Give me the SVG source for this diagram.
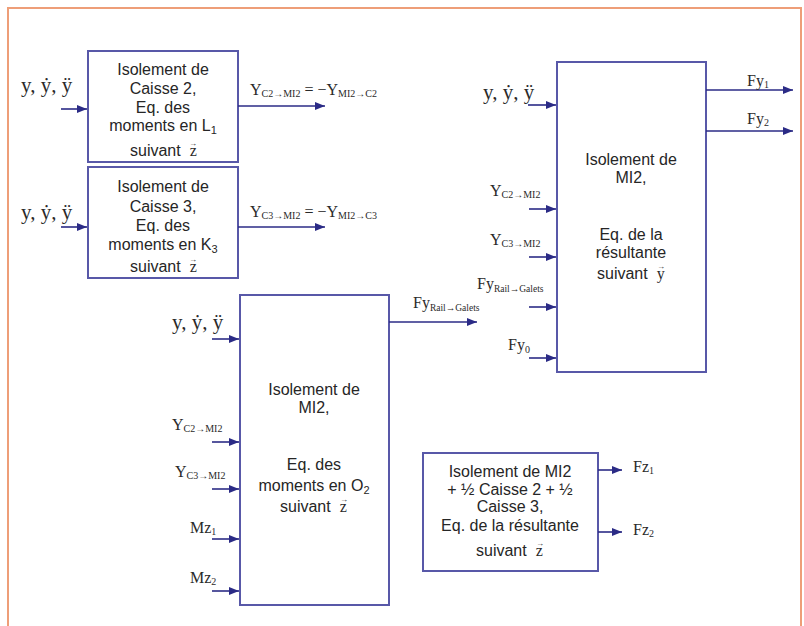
<svg xmlns="http://www.w3.org/2000/svg" width="804" height="626" viewBox="0 0 804 626">
<style>
.box{fill:#ffffff;stroke:#5858a8;stroke-width:2}
.bt{font-family:"Liberation Sans",Arial,sans-serif;font-size:16px;fill:#262626;text-anchor:middle}
.bs{font-family:"Liberation Sans",Arial,sans-serif;font-size:16px;fill:#262626}
.sf{font-family:"Liberation Serif","Times New Roman",serif;fill:#2a2a2a}
.lb{font-family:"Liberation Serif","Times New Roman",serif;font-size:16px;fill:#2a2a2a}
.yy{font-family:"Liberation Serif","Times New Roman",serif;font-size:21px;fill:#2a2a2a}
.vec{font-family:"Liberation Serif","Times New Roman",serif;font-size:8px;fill:#2a2a2a;text-anchor:middle}
.con line{stroke:#2b2b86;stroke-width:1.6;marker-end:url(#ah)}
</style>
<defs>
<marker id="ah" viewBox="0 0 10 8" refX="10" refY="4" markerWidth="10" markerHeight="8" markerUnits="userSpaceOnUse" orient="auto">
<path d="M0,0 L10,4 L0,8 z" fill="#2b2b86"/>
</marker>
</defs>
<rect x="0" y="0" width="804" height="626" fill="#ffffff"/>
<path d="M8,626 V8 H801 V626" fill="none" stroke="#ee9e78" stroke-width="2"/>

<g id="box-caisse2">
<rect class="box" x="88" y="51" width="150" height="111"/>
<text class="bt" x="163" y="75">Isolement de</text>
<text class="bt" x="163" y="94">Caisse 2,</text>
<text class="bt" x="163" y="113">Eq. des</text>
<text class="bt" x="163" y="131">moments en L<tspan font-size="11" dy="3">1</tspan></text>
<text class="bs" x="130" y="156">suivant<tspan class="sf" dx="9">z</tspan><tspan class="vec" x="193" y="146">→</tspan></text>
</g>

<g id="box-caisse3">
<rect class="box" x="88" y="167" width="150" height="111"/>
<text class="bt" x="163" y="192">Isolement de</text>
<text class="bt" x="163" y="212">Caisse 3,</text>
<text class="bt" x="163" y="231">Eq. des</text>
<text class="bt" x="163" y="250">moments en K<tspan font-size="11" dy="3">3</tspan></text>
<text class="bs" x="130" y="272">suivant<tspan class="sf" dx="9">z</tspan><tspan class="vec" x="193" y="262">→</tspan></text>
</g>

<g id="box-mi2-resultante-y">
<rect class="box" x="557" y="62" width="149" height="310"/>
<text class="bt" x="631" y="165">Isolement de</text>
<text class="bt" x="631" y="183">MI2,</text>
<text class="bt" x="631" y="240">Eq. de la</text>
<text class="bt" x="631" y="258">résultante</text>
<text class="bs" x="597" y="279">suivant<tspan class="sf" dx="9">y</tspan><tspan class="vec" x="661" y="269">→</tspan></text>
</g>

<g id="box-mi2-moments-o2">
<rect class="box" x="240" y="295" width="149" height="310"/>
<text class="bt" x="314" y="395">Isolement de</text>
<text class="bt" x="314" y="413">MI2,</text>
<text class="bt" x="314" y="470">Eq. des</text>
<text class="bt" x="314" y="491">moments en O<tspan font-size="11" dy="3">2</tspan></text>
<text class="bs" x="280" y="512">suivant<tspan class="sf" dx="9">z</tspan><tspan class="vec" x="344" y="502">→</tspan></text>
</g>

<g id="box-mi2-resultante-z">
<rect class="box" x="423" y="453" width="175" height="118"/>
<text class="bt" x="510" y="477">Isolement de MI2</text>
<text class="bt" x="510" y="495">+ ½ Caisse 2 + ½</text>
<text class="bt" x="510" y="512">Caisse 3,</text>
<text class="bt" x="510" y="531">Eq. de la résultante</text>
<text class="bs" x="476" y="556">suivant<tspan class="sf" dx="9">z</tspan><tspan class="vec" x="540" y="546">→</tspan></text>
</g>

<g id="connectors" class="con">
<line x1="61" y1="109" x2="87" y2="109"/>
<line x1="238" y1="106" x2="325" y2="106"/>
<line x1="61" y1="227" x2="87" y2="227"/>
<line x1="238" y1="227" x2="325" y2="227"/>
<line x1="528" y1="105" x2="556" y2="105"/>
<line x1="529" y1="209" x2="556" y2="209"/>
<line x1="529" y1="257" x2="556" y2="257"/>
<line x1="529" y1="307" x2="556" y2="307"/>
<line x1="529" y1="358" x2="556" y2="358"/>
<line x1="706" y1="90" x2="793" y2="90"/>
<line x1="706" y1="131" x2="793" y2="131"/>
<line x1="389" y1="322" x2="477" y2="322"/>
<line x1="212" y1="339" x2="239" y2="339"/>
<line x1="212" y1="442" x2="239" y2="442"/>
<line x1="212" y1="489" x2="239" y2="489"/>
<line x1="212" y1="539" x2="239" y2="539"/>
<line x1="212" y1="591" x2="239" y2="591"/>
<line x1="598" y1="470" x2="622" y2="470"/>
<line x1="598" y1="532" x2="622" y2="532"/>
</g>

<g id="labels">
<text class="yy" x="21" y="92">y, ẏ, ÿ</text>
<text class="yy" x="21" y="219">y, ẏ, ÿ</text>
<text class="yy" x="483" y="99" font-size="23">y, ẏ, ÿ</text>
<text class="yy" x="172" y="329">y, ẏ, ÿ</text>
<text class="lb" x="250" y="95">Y<tspan font-size="10" dy="2">C2→MI2</tspan><tspan dy="-2"> = −Y</tspan><tspan font-size="10" dy="2">MI2→C2</tspan></text>
<text class="lb" x="250" y="217">Y<tspan font-size="10" dy="2">C3→MI2</tspan><tspan dy="-2"> = −Y</tspan><tspan font-size="10" dy="2">MI2→C3</tspan></text>
<text class="lb" x="490" y="196">Y<tspan font-size="10" dy="2">C2→MI2</tspan></text>
<text class="lb" x="490" y="245">Y<tspan font-size="10" dy="2">C3→MI2</tspan></text>
<text class="lb" x="477" y="289">Fy<tspan font-size="9.5" dy="3">Rail→Galets</tspan></text>
<text class="lb" x="508" y="350">Fy<tspan font-size="10" dy="3">0</tspan></text>
<text class="lb" x="747" y="86">Fy<tspan font-size="10" dy="2">1</tspan></text>
<text class="lb" x="747" y="124">Fy<tspan font-size="10" dy="2">2</tspan></text>
<text class="lb" x="413" y="308">Fy<tspan font-size="9.5" dy="3">Rail→Galets</tspan></text>
<text class="lb" x="172" y="430">Y<tspan font-size="10" dy="2">C2→MI2</tspan></text>
<text class="lb" x="175" y="477">Y<tspan font-size="10" dy="2">C3→MI2</tspan></text>
<text class="lb" x="190" y="533">Mz<tspan font-size="10" dy="2">1</tspan></text>
<text class="lb" x="190" y="583">Mz<tspan font-size="10" dy="2">2</tspan></text>
<text class="lb" x="633" y="472">Fz<tspan font-size="10" dy="2">1</tspan></text>
<text class="lb" x="633" y="535">Fz<tspan font-size="10" dy="2">2</tspan></text>
</g>
</svg>
